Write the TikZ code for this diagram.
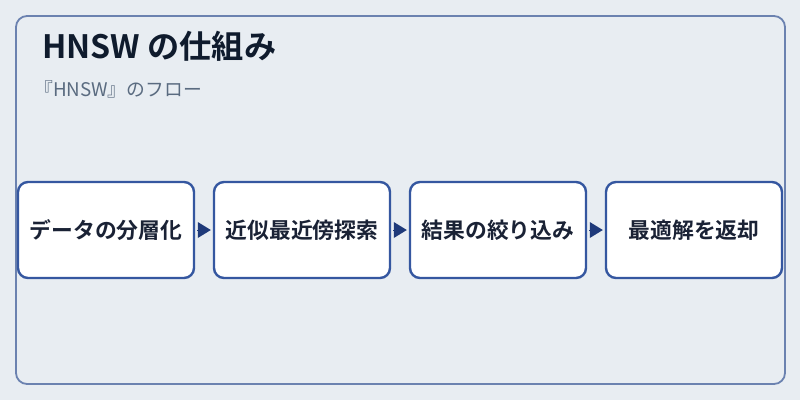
\documentclass[tikz,border=0pt]{standalone}
\usepackage{fontspec}
\setmainfont{Noto Sans CJK JP}[BoldFont=* Bold]
\usetikzlibrary{arrows.meta}
\definecolor{bg}{HTML}{E8EDF2}
\definecolor{frame}{HTML}{6B82B0}
\definecolor{boxline}{HTML}{3557A0}
\definecolor{arrowc}{HTML}{1F3A7A}
\definecolor{titlec}{HTML}{0F1B2D}
\definecolor{subc}{HTML}{5A6B80}
\definecolor{textc}{HTML}{1A2235}
\tikzset{
  stepbox/.style={draw=boxline, line width=2.4pt, fill=white, rounded corners=10pt,
    minimum width=176pt, minimum height=96pt, inner sep=0pt,
    font=\bfseries\fontsize{21.8pt}{24pt}\selectfont, text=textc},
  flow/.style={draw=arrowc, fill=arrowc, line width=0pt,
    -{Triangle[length=13pt,width=16pt]}, shorten <=3pt, shorten >=2pt}
}
\begin{document}
\begin{tikzpicture}[x=1pt,y=-1pt]
\useasboundingbox[fill=bg] (0,0) rectangle (800,400);
\draw[frame, line width=1.8pt, rounded corners=11pt] (16,16) rectangle (785,384);
\node[anchor=base west, inner sep=0pt, font=\bfseries\fontsize{32.2pt}{36pt}\selectfont, text=titlec] (title) at (42,58) {HNSW の仕組み};
\node[anchor=base west, inner sep=0pt, font=\fontsize{18.8pt}{21pt}\selectfont, text=subc] (sub) at (34,96) {『HNSW』のフロー};
\node[stepbox] (b1) at (106,230) {データの分層化};
\node[stepbox] (b2) at (302,230) {近似最近傍探索};
\node[stepbox] (b3) at (498,230) {結果の絞り込み};
\node[stepbox] (b4) at (694,230) {最適解を返却};
\draw[flow] (b1.east) -- (b2.west);
\draw[flow] (b2.east) -- (b3.west);
\draw[flow] (b3.east) -- (b4.west);
\end{tikzpicture}
\end{document}
